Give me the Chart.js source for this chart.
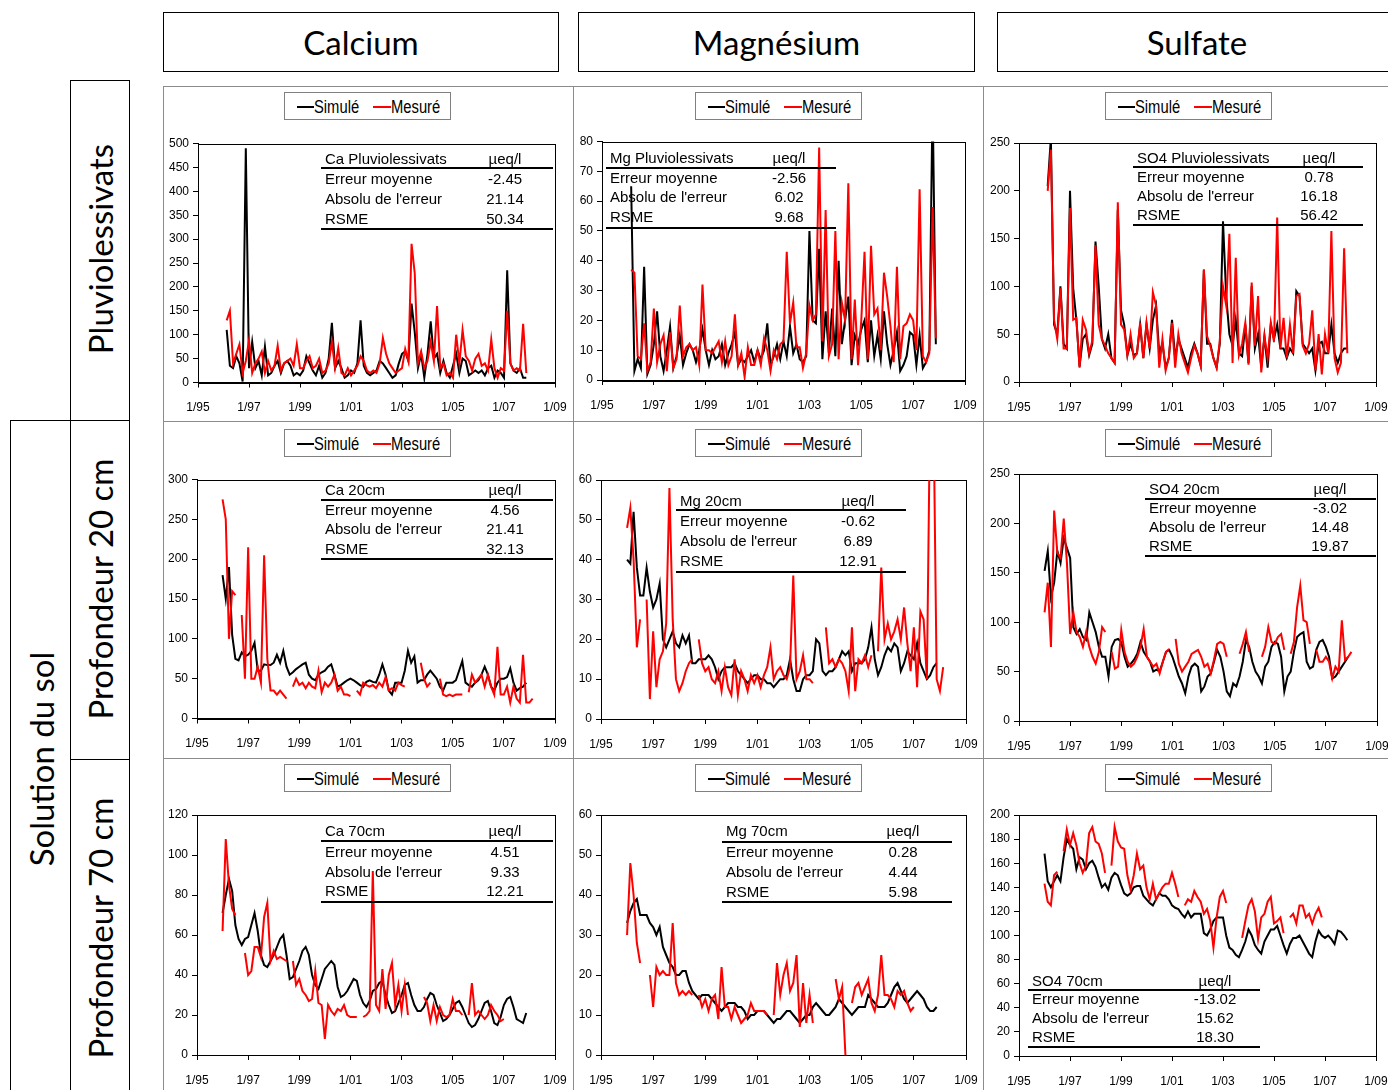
<!DOCTYPE html>
<html><head><meta charset="utf-8">
<script src="https://cdn.jsdelivr.net/npm/chart.js@4.4.1/dist/chart.umd.min.js"></script>
<style>
body{margin:0;background:#fff;width:1388px;height:1090px;overflow:hidden;position:relative;font-family:"Liberation Sans",Arial,sans-serif;color:#000;}
.hdr{position:absolute;border:1.5px solid #000;box-sizing:border-box;display:flex;align-items:center;justify-content:center;font-family:Lato,"Open Sans",sans-serif;font-size:33px;}
.vbox{position:absolute;border:1.5px solid #000;box-sizing:border-box;}
.vtxt{position:absolute;transform:translate(-50%,-50%) rotate(-90deg);white-space:nowrap;font-family:Lato,"Open Sans",sans-serif;font-size:33px;line-height:40px;}
.panel{position:absolute;border:1px solid #8c8c8c;box-sizing:border-box;}
canvas{position:absolute;}
.leg{position:absolute;border:1px solid #808080;box-sizing:border-box;height:28px;width:167px;background:#fff;}
.leg .ln{position:absolute;top:13px;height:2px;width:17px;}
.leg .tx{position:absolute;top:3px;font-size:18px;line-height:22px;transform:scaleX(0.82);transform-origin:left center;white-space:nowrap;}
.t{position:absolute;font-size:15px;line-height:20px;white-space:nowrap;}
.tl{position:absolute;height:2px;background:#000;}
</style>
</head><body>
<script>
// ---------------- DATA ----------------
// x positions: sampling dates in months since 1/95 (every 1.5 month from 1/96)
const MONTHS = Array.from({length: 98}, (_, i) => 12 + 1.5 * i);
const xTickLabels = ["1/95","1/97","1/99","1/01","1/03","1/05","1/07","1/09"];
const columnTitles = ["Calcium", "Magnésium", "Sulfate"];
const rowTitles = ["Pluviolessivats", "Profondeur 20 cm", "Profondeur 70 cm"];
const groupTitle = "Solution du sol";
const seriesNames = ["Simulé", "Mesuré"];
const statLabels = ["Erreur moyenne", "Absolu de l'erreur", "RSME"];
const unitLabel = "µeq/l";
const tableTitles = ["Ca Pluviolessivats","Mg Pluviolessivats","SO4 Pluviolessivats","Ca 20cm","Mg 20cm","SO4 20cm","Ca 70cm","Mg 70cm","SO4 70cm"];
const tableStats = [
  ["-2.45","21.14","50.34"], ["-2.56","6.02","9.68"], ["0.78","16.18","56.42"],
  ["4.56","21.41","32.13"], ["-0.62","6.89","12.91"], ["-3.02","14.48","19.87"],
  ["4.51","9.33","12.21"], ["0.28","4.44","5.98"], ["-13.02","15.62","18.30"]
];
const yMax = [500, 80, 250, 300, 60, 250, 120, 60, 200];
const yStep = [50, 10, 50, 50, 10, 50, 20, 10, 20];

const caPluvSim = [null,110,35,30,55,40,2,490, 30,85,30,45,15,75,15,20, 35,45,20,40,45,35,15,20, 15,25,55,40,25,15,35,10, 20,50,125,30,45,30,10,15, 25,20,40,130,35,20,15,20, 25,45,40,30,20,10,15,40, 60,65,45,165,105,30,60,10, 60,128,50,60,20,45,20,10, 35,60,20,50,45,15,20,25, 20,25,15,30,35,10,25,20, 10,235,40,25,20,30,10,10];
const caPluvMes = [null,130,150,40,60,80,20,45, 88,20,40,50,65,20,45,25, 35,77,25,40,45,50,35,80, 30,30,45,55,30,35,50,20, 25,40,85,30,72,20,15,30, 15,25,35,55,45,25,20,25, 20,40,93,60,40,30,20,25, 30,70,45,290,228,40,65,30, 45,85,45,160,30,40,15,20, 10,100,40,110,55,45,25,50, 60,35,40,25,90,30,10,30, 25,150,40,25,30,25,123,20];
const mgPluvSim = [null,65,3,7,4,38,2,5, 12,23,8,3,10,18,4,8, 15,5,9,12,10,6,10,17, 10,5,10,7,8,12,5,9, 12,16,5,7,6,8,10,6, 10,7,10,19,5,8,12,7, 13,8,18,9,12,7,6,8, 50,20,19,44,7,23,9,24, 8,40,12,20,28,5,15,12, 17,20,6,20,8,15,7,23, 12,5,10,16,3,5,8,16, 15,5,15,4,6,10,95,12];
const mgPluvMes = [null,37,36,8,7,19,3,6, 24,6,12,15,3,16,4,7, 25,8,11,12,10,11,5,32, 10,10,9,11,13,6,13,5, 8,22,5,9,1,11,5,5, 10,5,14,10,3,10,7,12, 13,43,19,26,11,11,4,9, 25,20,22,78,13,57,8,12, 50,7,26,20,66,7,27,5, 20,43,7,45,22,24,10,36, 28,18,6,38,7,18,19,22, 20,10,64,8,6,9,58,14];
const so4PluvSim = [null,205,255,60,50,100,40,35, 200,98,65,16,45,50,28,40, 147,100,45,35,50,25,20,180, 75,60,28,40,28,30,60,25, 60,35,65,80,30,40,15,25, 65,25,45,35,25,15,30,40, 30,17,117,40,40,25,15,40, 168,90,50,38,65,30,27,60, 20,100,35,50,15,48,15,60, 45,60,35,35,25,35,30,95, 90,40,35,30,35,12,40,42, 30,30,60,30,20,30,35,35];
const so4PluvMes = [null,200,243,65,45,98,35,35, 182,65,67,15,65,55,30,43, 143,60,45,38,30,25,20,188, 60,55,28,50,25,30,62,25, 62,35,94,80,15,45,12,25, 62,15,50,30,20,10,25,38, 30,17,118,48,38,25,15,43, 100,80,155,20,130,28,40,62, 18,104,38,90,10,48,25,62, 42,172,35,67,25,60,30,90, 92,38,30,40,75,12,50,8, 50,30,158,25,10,20,140,30];

const ca20Sim = [180,150,190,105,75,73,83,78, 80,85,95,60,60,68,67,67, 70,80,70,85,65,55,58,62, 65,68,70,55,50,48,55,58, 60,65,68,55,40,42,45,48, 50,48,45,42,40,46,48,46, 45,55,68,55,35,30,45,45, 45,60,85,70,78,45,48,48, 55,60,55,50,40,35,45,45, 45,48,60,72,45,42,40,45, 48,55,65,55,40,35,45,50, 50,52,63,45,35,38,40,45];
const ca20Mes = [275,250,100,160,155,null,130,50, 215,50,50,65,45,205,75,35, 35,30,35,30,25,null,40,50, 42,45,38,45,40,38,60,33, 45,40,45,55,35,40,30,30, 28,null,35,30,45,42,40,42, 38,45,40,52,35,38,35,45, 42,40,null,null,null,null,70,50, 40,45,null,null,50,30,28,30, 28,30,30,30,null,33,55,45, 50,55,40,55,40,30,90,30, 30,40,20,40,25,20,80,20, 20,25];
const mg20Sim = [40,39,52,38,31,31,38,32, 28,30,34,20,18,20,22,19, 18,21,19,21,14,14,15,15, 15,16,15,13,10,12,13,13, 13,14,12,11,10,9,10,11, 11,10,10,9,9,8,9,10, 10,11,15,10,7,7,10,11, 11,12,20,19,12,11,12,12, 13,15,17,16,17,12,14,14, 14,15,18,23,15,11,13,16, 18,17,19,18,12,14,17,16, 15,19,14,12,10,11,13,14];
const mg20Mes = [48,53,40,18,25,null,30,5, 22,8,15,17,24,58,25,10, 7,9,12,14,15,null,20,14, 12,13,10,9,12,7,13,8, 6,15,6,12,10,7,11,9, 11,8,11,13,18,10,12,13, 11,10,13,36,10,12,16,10, 10,9,null,null,null,23,14,15, 13,15,14,12,7,23,7,15, 14,16,13,16,null,17,38,20, 24,20,22,25,20,28,19,12, 23,8,27,25,10,80,80,10, 7,13];
const so420Sim = [152,172,125,140,172,160,185,175, 165,95,88,93,85,82,110,100, 90,75,65,65,45,75,82,83, 80,65,55,58,62,68,80,70, 65,60,50,52,50,60,70,72, 65,55,45,38,28,45,55,58, 55,30,35,45,48,60,72,65, 50,30,25,38,35,45,60,82, 75,60,50,45,38,55,60,75, 80,78,65,30,45,50,70,85, 88,90,60,53,55,72,80,82, 75,65,43,45,50,55,60,65];
const so420Mes = [110,140,75,213,170,165,205,160, 88,110,90,85,75,90,75,65, 58,70,95,90,null,70,53,55, 92,70,60,55,58,65,75,93, 65,60,55,58,48,60,70,73, null,83,58,50,55,60,68,70, 72,65,55,58,48,62,78,80, 78,65,null,null,null,68,78,90, 70,null,null,null,65,75,95,80, 78,85,88,72,null,68,80,115, 137,102,100,78,null,72,60,60, 65,60,43,55,50,102,62,65, 70];

const ca70Sim = [71,80,88,82,65,58,55,58, 59,65,71,62,50,45,44,47, 50,54,58,60,50,38,39,43, 47,52,54,50,40,35,33,38, 43,45,47,45,34,29,30,32, 35,38,37,30,26,24,27,32, 33,36,37,30,25,21,22,26, 30,35,36,30,25,22,22,24, 28,31,30,25,21,17,18,20, 23,26,27,24,20,16,14,15, 18,22,26,27,22,16,15,19, 25,28,29,24,18,17,16,21];
const ca70Mes = [62,108,85,73,70,null,null,51, 40,42,54,54,49,69,76,47, 52,48,49,48,47,null,47,35, 38,32,30,27,28,42,26,25, 8,25,22,20,23,22,25,20, 19,19,19,null,19,20,22,92, 25,22,43,23,40,46,25,35, 22,35,20,null,null,null,null,29, 26,17,25,17,24,20,19,20, 28,22,22,20,null,20,36,20, 22,20,18,20,25,22,20,17, 18];
const mg70Sim = [33,36,38,39,35,35,35,33, 32,30,32,27,25,23,22,20, 20,21,21,18,16,15,14,15, 15,15,14,13,12,11,12,13, 13,13,12,12,11,9,10,10, 11,11,11,10,9,8,9,9, 10,11,11,10,9,8,9,10, 10,12,13,12,11,10,10,11, 12,14,13,12,11,10,11,12, 12,12,15,14,13,12,12,12, 13,15,17,18,16,14,13,14, 15,16,15,14,12,11,11,12];
const mg70Mes = [30,48,40,28,23,null,null,20, 12,22,20,21,20,20,33,18, 15,16,15,16,15,null,15,12, 14,11,14,15,9,22,12,12, 9,12,10,8,9,10,13,11, 11,11,11,10,null,10,23,15, 20,23,16,18,25,7,18,8, 15,8,null,null,null,null,null,null, 19,14,17,0,null,13,17,18, 15,17,19,13,11,15,25,15, 15,14,12,16,15,16,13,11, 12];
const so470Sim = [168,145,140,145,150,145,165,180, 175,172,155,165,163,155,160,162, 157,148,140,143,138,148,152,150, 142,135,133,135,140,141,141,133, 130,127,125,130,135,133,133,130, 125,123,122,118,115,120,115,118, 118,118,102,100,105,112,115,115, 115,100,90,88,84,82,88,95, 105,100,92,88,85,95,100,105, 105,108,100,92,85,93,98,98, 100,95,90,85,82,95,104,100, 98,100,97,93,104,103,100,96];
const so470Mes = [143,128,125,150,153,null,170,188, 175,185,175,160,152,158,185,190, 178,176,168,152,null,158,190,178, 173,172,150,138,150,168,155,158, 140,130,143,130,135,140,143,143, 152,143,132,null,125,130,128,137, 132,128,118,122,112,90,115,132, 137,127,null,null,null,null,98,112, 125,130,120,97,115,118,128,132, 110,112,115,102,null,115,118,110, 125,125,115,118,110,118,123,115];

const simSeries = [caPluvSim, mgPluvSim, so4PluvSim, ca20Sim, mg20Sim, so420Sim, ca70Sim, mg70Sim, so470Sim];
const mesSeries = [caPluvMes, mgPluvMes, so4PluvMes, ca20Mes, mg20Mes, so420Mes, ca70Mes, mg70Mes, so470Mes];

// ---------------- LAYOUT ----------------
const colLeft = [163, 573, 983], colWidth = [410, 410, 405], canvasWidth = [410, 410, 430];
const rowTop = [86, 421, 758], rowHeight = [335, 337, 332];
// plot areas [L, R, T, B]
const plotRects = [
  [198,555,143.5,382.5],[602,965,141.5,380],[1019,1376,143,382],
  [197,555,479.5,718.5],[601,966,480,719],[1019,1377,474,721],
  [197,555,815,1055],[601,966,815,1055],[1019,1376,815,1056]
];
// tables: [lineLeft, lineRight, textX, valueX, titleY, line1Y, row1Y, rowStep, bottomY]
const tableLayout = [
  [321,553,325,505,158.7,168.3,178.7,20.3,229.3],
  [606,836,610,789,157.7,167.7,177.7,19.7,227.7],
  [1133,1363,1137,1319,157.7,166.7,176.5,19.2,224.7],
  [321,553,325,505,490,500,510,19.4,558.7],
  [676,906,680,858,501,510.3,521,20,571.7],
  [1145,1376,1149,1330,489.3,499.3,508.3,18.9,556.3],
  [321,553,325,505,831.3,841.3,852,19.7,902],
  [722,952,726,903,831.3,842.3,852,20,902],
  [1028,1260,1032,1215,980.7,990.3,998.7,19.2,1046.7]
];
const legendLeft = [284, 695, 1105], legendTop = [92, 429, 764];

function el(cls, css, html) {
  const d = document.createElement('div');
  if (cls) d.className = cls;
  Object.assign(d.style, css);
  if (html !== undefined) d.textContent = html;
  document.body.appendChild(d);
  return d;
}
const px = v => v + 'px';

// headers
const hdrBoxes = [[163,396],[578,397],[997,400]];
columnTitles.forEach((t, i) => el('hdr', {left: px(hdrBoxes[i][0]), top: '12px', width: px(hdrBoxes[i][1]), height: '60px'}, t));
// row label boxes
el('vbox', {left:'70px', top:'80px', width:'60px', height:'341px'});
el('vbox', {left:'70px', top:'420px', width:'60px', height:'340px'});
el('vbox', {left:'70px', top:'759px', width:'60px', height:'345px'});
el('vbox', {left:'10px', top:'420px', width:'61px', height:'690px'});
const rowCenters = [249, 589, 928];
rowTitles.forEach((t, i) => el('vtxt', {left:'100px', top: px(rowCenters[i])}, t));
el('vtxt', {left:'41px', top:'759px'}, groupTitle);

Chart.defaults.font.family = "'Liberation Sans', Arial, sans-serif";
Chart.defaults.color = '#000';

const framePlugin = {
  id: 'frame',
  beforeDatasetsDraw(c) {
    const {ctx, chartArea: a} = c;
    ctx.save(); ctx.strokeStyle = '#000'; ctx.lineWidth = 1;
    ctx.strokeRect(Math.round(a.left) + 0.5, Math.round(a.top) + 0.5, Math.round(a.right - a.left), Math.round(a.bottom - a.top));
    ctx.restore();
  }
};

const toXY = arr => arr.map((v, i) => ({x: MONTHS[i], y: v}));

for (let p = 0; p < 9; p++) {
  const r = Math.floor(p / 3), c = p % 3;
  const left = colLeft[c], top = rowTop[r], w = canvasWidth[c], h = rowHeight[r];
  el('panel', {left: px(left), top: px(top), width: px(colWidth[c] + 1), height: px(h + 1)});
  const [L, R, T, B] = plotRects[p];
  const cv = document.createElement('canvas');
  cv.width = w; cv.height = h;
  Object.assign(cv.style, {left: px(left), top: px(top), width: px(w), height: px(h)});
  document.body.appendChild(cv);
  new Chart(cv, {
    type: 'line',
    data: {datasets: [
      {label: seriesNames[1], data: toXY(mesSeries[p]), borderColor: '#ff0000', borderWidth: 2, pointRadius: 0, tension: 0, spanGaps: false, order: 0},
      {label: seriesNames[0], data: toXY(simSeries[p]), borderColor: '#000000', borderWidth: 2, pointRadius: 0, tension: 0, spanGaps: false, order: 1}
    ]},
    options: {
      responsive: false, animation: false, events: [],
      plugins: {legend: {display: false}, tooltip: {enabled: false}},
      layout: {padding: {left: 0, top: T - top, right: left + w - R, bottom: 0}},
      scales: {
        x: {type: 'linear', min: 0, max: 168,
            afterFit(s) { s.height = top + h - B; s.paddingLeft = 0; s.paddingRight = 0; },
            ticks: {stepSize: 24, autoSkip: false, maxRotation: 0, padding: 13, font: {size: 12}, color: '#000',
                    callback: v => xTickLabels[Math.round(v / 24)]},
            grid: {drawOnChartArea: false, drawTicks: true, tickLength: 5, color: '#000'},
            border: {color: '#000', width: 1}},
        y: {min: 0, max: yMax[p],
            afterFit(s) { s.width = L - left; s.paddingTop = 0; s.paddingBottom = 0; },
            ticks: {stepSize: yStep[p], padding: 4, font: {size: 12}, color: '#000'},
            grid: {drawOnChartArea: false, drawTicks: true, tickLength: 5, color: '#000'},
            border: {color: '#000', width: 1}}
      }
    },
    plugins: [framePlugin]
  });

  // legend
  const lg = el('leg', {left: px(legendLeft[c]), top: px(legendTop[r])});
  const parts = [['ln', {left:'12px', background:'#000'}], ['tx', {left:'29px'}, seriesNames[0]], ['ln', {left:'88px', width:'18px', background:'#ff0000'}], ['tx', {left:'106px'}, seriesNames[1]]];
  parts.forEach(([cl, css, txt]) => { const d = document.createElement('div'); d.className = cl; Object.assign(d.style, css); if (txt) d.textContent = txt; lg.appendChild(d); });

  // stats table
  const [lL, lR, tx, vx, tY, l1Y, r1Y, step, bY] = tableLayout[p];
  el('t', {left: px(tx), top: px(tY - 10)}, tableTitles[p]);
  el('t', {left: px(vx - 40), width: '80px', textAlign: 'center', top: px(tY - 10)}, unitLabel);
  el('tl', {left: px(lL), width: px(lR - lL), top: px(l1Y - 1)});
  statLabels.forEach((s, i) => {
    const y = r1Y + i * step;
    el('t', {left: px(tx), top: px(y - 10)}, s);
    el('t', {left: px(vx - 40), width: '80px', textAlign: 'center', top: px(y - 10)}, tableStats[p][i]);
  });
  el('tl', {left: px(lL), width: px(lR - lL), top: px(bY - 1)});
}
</script>
</body></html>
